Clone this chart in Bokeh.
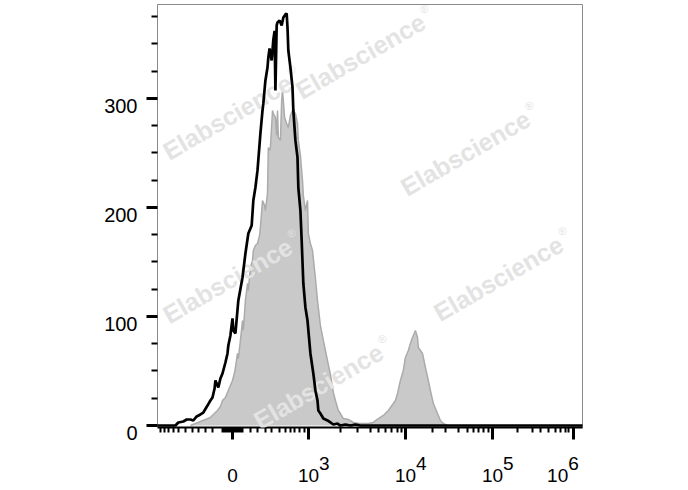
import math
from bokeh.plotting import figure
from bokeh.models import Range1d, FixedTicker, Label
from bokeh.embed import file_html
from bokeh.resources import INLINE

# ---------------- data (channel units on a biexponential display axis) ----------------
ctrl_channel = [0, 43, 50, 62, 70, 79, 86, 94, 103, 110, 120, 127, 132, 137, 139, 144, 146, 151, 156,
                163, 168, 170, 175, 180, 182, 187, 194, 204, 211, 218, 226, 230, 235, 240, 247, 252,
                254, 259, 264, 266, 269, 274, 276, 278, 281, 283, 286, 288, 293, 298, 302, 307, 310,
                312, 314, 319, 324, 326, 331, 336, 338, 343, 346, 350, 355, 360, 367, 374, 379, 384,
                386, 391, 398, 408, 415, 422, 432, 439, 451, 463, 475, 487, 1020]
ctrl_count = [0, 0, 2.8, 3.7, 5.5, 5.5, 4.6, 8.3, 10.1, 11.9, 18.3, 22.9, 25.7, 33.9, 41.3, 36.7, 34.9,
              43.1, 47.7, 57.8, 66.1, 73.4, 82.6, 98.2, 87.2, 84.4, 114.7, 135.8, 157.8, 176.1, 183.5,
              206.4, 218.3, 234.0, 267.9, 289.0, 295.4, 316.5, 328.4, 337.6, 345.9, 334.9, 344.0,
              354.0, 362.0, 307.3, 367.0, 369.7, 371.6, 367.0, 374.3, 377.1, 378.0, 365.1, 344.0,
              328.4, 310.1, 289.0, 261.5, 245.9, 218.3, 197.2, 169.7, 130.3, 108.3, 96.3, 66.1, 47.7,
              32.1, 22.9, 13.8, 11.0, 6.4, 4.6, 2.8, 0.9, 1.8, 0, 0.9, 0, 0.9, 0, 0]

stain_channel = [79, 91, 103, 115, 127, 134, 144, 151, 156, 163, 170, 175, 180, 185, 187, 192, 194, 199,
                 204, 206, 211, 216, 218, 223, 228, 230, 235, 240, 245, 247, 252, 257, 259, 264, 266,
                 269, 271, 276, 278, 283, 286, 288, 290, 295, 298, 300, 302, 305, 310, 314, 319, 324,
                 329, 331, 336, 338, 343, 348, 350, 355, 360, 362, 367, 372, 374, 379, 384, 391, 398,
                 403, 408, 415, 422, 427, 434, 439, 446, 458, 470, 482, 494, 506, 518, 530, 542, 554,
                 566, 571, 576, 583, 590, 595, 602, 607, 612, 617, 619, 624, 626, 631, 636, 643, 650,
                 655, 662, 672, 679, 686, 696]
stain_count = [0, 1.8, 3.7, 5.5, 7.3, 10.1, 13.8, 17.4, 22.9, 25.7, 32.1, 36.7, 41.3, 48.6, 53.2, 66.1,
               61.5, 78.0, 96.3, 87.2, 114.7, 130.3, 123.9, 145.0, 151.4, 160.6, 165.1, 167.0, 174.3,
               181.7, 206.4, 201.8, 197.2, 212.8, 255.0, 252.3, 255.0, 289.0, 286.2, 282.6, 266.1,
               289.0, 264.2, 261.5, 298.2, 307.3, 298.2, 282.6, 277.1, 273.4, 284.4, 289.0, 287.2,
               286.2, 277.1, 261.5, 247.7, 224.8, 211.0, 197.2, 206.4, 176.1, 167.0, 160.6, 153.2,
               134.9, 114.7, 91.7, 78.0, 68.8, 59.6, 46.8, 30.3, 22.9, 13.8, 11.0, 6.4, 5.5, 2.8, 1.8,
               1.8, 1.8, 2.8, 6.4, 9.2, 13.8, 20.2, 22.9, 29.4, 41.3, 50.5, 62.4, 68.8, 75.2, 80.7,
               85.3, 87.2, 80.7, 71.6, 68.8, 66.1, 53.2, 41.3, 32.1, 20.2, 11.0, 4.6, 1.8, 0]

# axis ticks
x_major_ticks = [180, 362.4, 595.2, 804, 998.4]          # 0, 10^3, 10^4, 10^5, 10^6
x_major_base = ["0", "10", "10", "10", "10"]
x_major_exp = ["", "3", "4", "5", "6"]
x_minor_ticks = [7.2, 16.8, 26.4, 38.4, 50.4, 67.2, 84, 98.4, 115.2, 132,
                 156, 160.8, 165.6, 170.4, 175.2, 184.8, 189.6, 194.4, 199.2, 204,
                 223.2, 240, 259.2, 273.6, 292.8, 307.2, 319.2, 328.8, 340.8, 352.8,
                 439.2, 480, 511.2, 530.4, 547.2, 561.6, 576, 585.6,
                 660, 691.2, 722.4, 744, 758.4, 770.4, 782.4, 794.4,
                 864, 900, 919.2, 938.4, 955.2, 967.2, 979.2, 986.4]
y_major_ticks = [0, 100, 200, 300]
y_minor_ticks = [25, 50, 75, 125, 150, 175, 225, 250, 275, 325, 350, 375]

watermark_text = "Elabscience"
watermark_x = [487, 168, 739, 168, 818, 386]
watermark_y = [339, 283, 250, 133, 135, 36]

# ---------------- figure ----------------
p = figure(width=688, height=490, output_backend="svg", toolbar_location=None,
           x_range=Range1d(0, 1020), y_range=Range1d(-1.83, 386.2),
           min_border_left=157, min_border_right=106, min_border_top=4, min_border_bottom=63)
p.background_fill_color = "white"
p.border_fill_color = "white"
p.outline_line_color = "#8a8a8a"
p.outline_line_width = 1
p.xgrid.visible = False
p.ygrid.visible = False

FONT = "Liberation Sans"
FS = "\u2007"  # figure space (digit-wide), used to place the exponent beside the base

# stained sample (grey filled)
p.varea(x=stain_channel, y1=0, y2=stain_count, fill_color="#c9c9c9")
p.line(stain_channel, stain_count, line_color="#ababab", line_width=1.5)

# control (black line) above the watermark
ctrl = p.line(ctrl_channel, ctrl_count, line_color="black", line_width=2.7)
ctrl.level = "overlay"

# ---- x axis: tick labels as two lines (exponent line above the base line)
x_overrides = {}
for i, (t, b, e) in enumerate(zip(x_major_ticks, x_major_base, x_major_exp)):
    if not e:
        x_overrides[t] = FS + "\n" + b
    elif i == len(x_major_ticks) - 1:
        x_overrides[t] = e + "\n" + b + FS * 3
    else:
        x_overrides[t] = FS * 3 + e + "\n" + b

xa = p.xaxis[0]
xa.ticker = FixedTicker(ticks=x_major_ticks, minor_ticks=x_minor_ticks)
xa.major_label_overrides = x_overrides
xa.axis_line_color = "black"
xa.axis_line_width = 2
xa.major_tick_in = 0
xa.major_tick_out = 12
xa.major_tick_line_width = 3
xa.minor_tick_in = 0
xa.minor_tick_out = 5
xa.minor_tick_line_width = 2
xa.major_label_text_font = FONT
xa.major_label_text_font_size = "19px"
xa.major_label_text_color = "black"
xa.major_label_text_line_height = 0.6
xa.major_label_standoff = 13

# ---- y axis
ya = p.yaxis[0]
ya.ticker = FixedTicker(ticks=y_major_ticks, minor_ticks=y_minor_ticks)
ya.major_label_overrides = {t: FS + "\n" + str(t) for t in y_major_ticks}
ya.axis_line_color = "#8a8a8a"
ya.axis_line_width = 1
ya.major_tick_in = 0
ya.major_tick_out = 11
ya.major_tick_line_width = 3
ya.minor_tick_in = 0
ya.minor_tick_out = 6
ya.minor_tick_line_width = 2
ya.major_label_text_font = FONT
ya.major_label_text_font_size = "20px"
ya.major_label_text_color = "black"
ya.major_label_text_line_height = 0.7
ya.major_label_standoff = 9

# watermarks
ang = math.radians(30)
for wx, wy in zip(watermark_x, watermark_y):
    p.add_layout(Label(x=wx, y=wy, text=watermark_text, angle=ang,
                       text_font=FONT, text_font_size="25px", text_font_style="bold",
                       text_color="#e3e3e3", text_align="center", text_baseline="middle"))
    along, perp = 79, 9
    ox = along * math.cos(ang) - perp * math.sin(ang)
    oy = along * math.sin(ang) + perp * math.cos(ang)
    p.add_layout(Label(x=wx, y=wy, x_offset=ox, y_offset=oy, text="\u00ae", angle=ang,
                       text_font=FONT, text_font_size="11px",
                       text_color="#e3e3e3", text_align="center", text_baseline="middle"))

open("out.html", "w").write(file_html(p, INLINE))
